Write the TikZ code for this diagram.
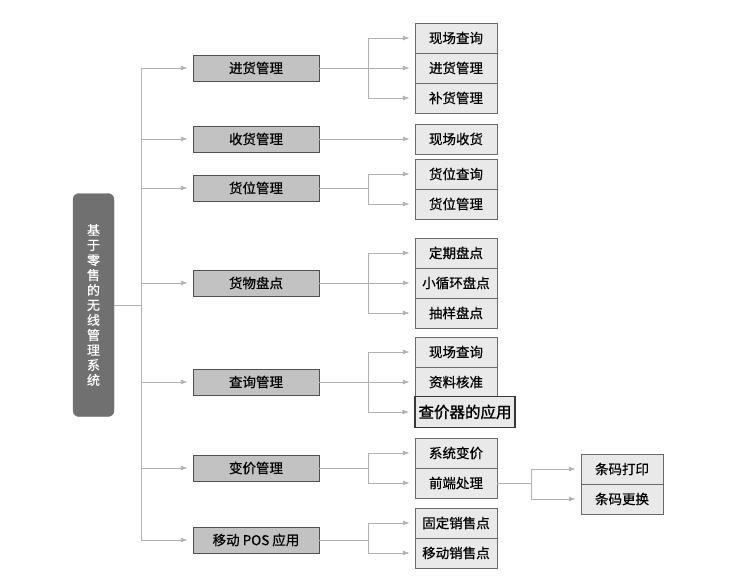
\documentclass[tikz,border=0pt]{standalone}
\usepackage{fontspec}
\newfontfamily\cjk[FakeBold=0.6]{Noto Sans CJK SC}
\newfontfamily\cjkbold[FakeBold=1.4]{Noto Sans CJK SC}
\definecolor{RootGray}{RGB}{112,112,112}
\definecolor{MidGray}{RGB}{194,194,194}
\definecolor{LeafGray}{RGB}{233,233,233}
\definecolor{LineGray}{RGB}{178,178,178}
\definecolor{EdgeGray}{RGB}{80,80,80}
\usetikzlibrary{arrows.meta, positioning, calc}

\begin{document}
\begin{tikzpicture}[x=1pt, y=-1pt, font=\cjk\fontsize{13.5}{16}\selectfont,
	root/.style={fill=RootGray, draw=RootGray, rounded corners=6pt, minimum width=41pt,
		minimum height=223pt, text=white, align=center, font=\cjk\fontsize{13}{15}\selectfont},
	mid/.style={fill=MidGray, draw=EdgeGray, minimum width=126pt, minimum height=26pt, inner sep=0pt},
	leaf/.style={fill=LeafGray, draw=EdgeGray!85, minimum width=82pt, minimum height=30pt, inner sep=0pt},
	link/.style={draw=LineGray, line width=0.9pt},
	arr/.style={link, -{Latex[length=7pt,width=5pt]}, shorten >=5pt}]
	\useasboundingbox (0,0) rectangle (745,578);
	% root and bus positions
	\node[root] (root) at (93.5,305) {基\\于\\零\\售\\的\\无\\线\\管\\理\\系\\统};
	\coordinate (bus) at (141,0);
	\coordinate (br) at (368,0);
	\coordinate (brb) at (531,0);
	% first level
	\foreach \t/\y/\n in {进货管理/68/jh, 收货管理/139/sh, 货位管理/188/hw, 货物盘点/283/pd,
		查询管理/382/cx, 变价管理/468/bj, 移动 POS 应用/540/yd}
		\node[mid] (\n) at (256,\y) {\t};
	% second level
	\foreach \t/\y/\n in {现场查询/38/jh1, 进货管理/68/jh2, 补货管理/98/jh3, 现场收货/139/sh1,
		货位查询/174/hw1, 货位管理/204/hw2, 定期盘点/253/pd1, 小循环盘点/283/pd2, 抽样盘点/313/pd3,
		现场查询/352/cx1, 资料核准/382/cx2, 系统变价/453/bj1, 前端处理/483/bj2,
		固定销售点/523/yd1, 移动销售点/553/yd2}
		\node[leaf] (\n) at (456,\y) {\t};
	\node[leaf, draw=EdgeGray!70!black, line width=1.4pt, minimum width=100pt, minimum height=31pt,
		font=\cjkbold\fontsize{15.5}{18}\selectfont] (cx3) at (465,412) {查价器的应用};
	% third level
	\foreach \t/\y/\n in {条码打印/469/tm1, 条码更换/499/tm2}
		\node[leaf] (\n) at (622,\y) {\t};

	% connectors
	\draw[link] (root.east) -- (root.east -| bus);
	\draw[link] (bus |- jh) -- (bus |- yd);
	\foreach \n in {jh, sh, hw, pd, cx, bj, yd}
		\draw[arr] (bus |- \n) -- (\n.west);
	\draw[arr] (sh.east) -- (sh1.west);
	\foreach \m/\a/\b in {jh/jh1/jh3, hw/hw1/hw2, pd/pd1/pd3, cx/cx1/cx3, bj/bj1/bj2, yd/yd1/yd2}{
		\draw[link] (\m.east) -- (\m.east -| br);
		\draw[link] (br |- \a) -- (br |- \b);
	}
	\foreach \l in {jh1, jh2, jh3, hw1, hw2, pd1, pd2, pd3, cx1, cx2, cx3, bj1, bj2, yd1, yd2}
		\draw[arr] (br |- \l) -- (\l.west);
	\draw[link] (bj2.east) -- (bj2.east -| brb);
	\draw[link] (brb |- tm1) -- (brb |- tm2);
	\foreach \l in {tm1, tm2}
		\draw[arr] (brb |- \l) -- (\l.west);
\end{tikzpicture}
\end{document}
